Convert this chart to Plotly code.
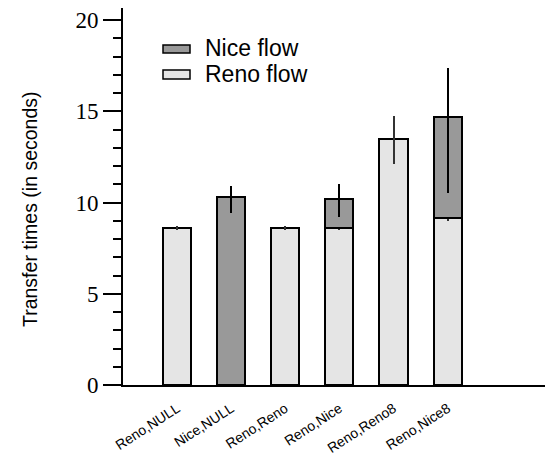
import plotly.graph_objects as go

categories = ["Reno,NULL", "Nice,NULL", "Reno,Reno", "Reno,Nice", "Reno,Reno8", "Reno,Nice8"]
reno_vals = [8.6, None, 8.6, 8.6, 13.5, 9.17]
reno_err_plus = [0.1, None, 0.1, 0.1, 1.26, 0.2]
reno_err_minus = [0.1, None, 0.1, 0.1, 1.41, 0.2]
nice_vals = [None, 10.3, None, 1.6, None, 5.5]
nice_err_plus = [None, 0.59, None, 0.79, None, 2.7]
nice_err_minus = [None, 0.85, None, 1.0, None, 4.13]
y_ticks = [0, 5, 10, 15, 20]

L, T, R, B = 123, 8, 545, 385
W, H = 546, 456

def px(x):
    return (x - L) / (R - L)

def py(y):
    return (B - y) / (B - T)

RENO_COL = "#e5e5e5"
NICE_COL = "#999999"

fig = go.Figure()
fig.add_trace(go.Bar(
    x=categories, y=reno_vals, name="Reno flow", width=0.52,
    marker=dict(color=RENO_COL, line=dict(color="black", width=2)),
    error_y=dict(type="data", symmetric=False, array=reno_err_plus, arrayminus=reno_err_minus,
                 color="#333333", thickness=2, width=0),
))
fig.add_trace(go.Bar(
    x=categories, y=nice_vals, name="Nice flow", width=0.52,
    marker=dict(color=NICE_COL, line=dict(color="black", width=2)),
    error_y=dict(type="data", symmetric=False, array=nice_err_plus, arrayminus=nice_err_minus,
                 color="black", thickness=2, width=0),
))

fig.update_layout(
    barmode="stack",
    width=W, height=H,
    margin=dict(l=L, r=W - R, t=T, b=H - B),
    paper_bgcolor="white", plot_bgcolor="white",
    showlegend=False,
    xaxis=dict(
        type="category", range=[-1, 6.8], showgrid=False,
        showline=True, linecolor="black", linewidth=2,
        ticks="", tickangle=-33, ticklabelstandoff=8,
        tickfont=dict(family="Liberation Sans, Arial", size=14, color="black"),
        fixedrange=True,
    ),
    yaxis=dict(
        range=[0, 20.66], showgrid=False, zeroline=False,
        showline=True, linecolor="black", linewidth=2,
        ticks="outside", ticklen=18, tickwidth=2, tickcolor="black",
        tickvals=y_ticks, ticktext=[str(v) for v in y_ticks],
        tickfont=dict(family="Liberation Serif, Times New Roman", size=23, color="black"),
        minor=dict(ticks="outside", ticklen=8, tickwidth=1.5, tickcolor="black", dtick=1, showgrid=False),
        fixedrange=True,
    ),
)

# y-axis title
fig.add_annotation(
    text="Transfer times (in seconds)", xref="paper", yref="paper",
    x=px(30), y=py(209), xanchor="center", yanchor="middle", textangle=-90,
    showarrow=False, font=dict(family="Liberation Sans, Arial", size=19.5, color="black"),
)

# legend drawn manually
legend_items = [("Nice flow", NICE_COL, 45, 53, 48), ("Reno flow", RENO_COL, 70, 79, 74)]
for label, col, y0, y1, yc in legend_items:
    fig.add_shape(type="rect", xref="paper", yref="paper",
                  x0=px(163), x1=px(190), y0=py(y1), y1=py(y0),
                  fillcolor=col, line=dict(color="black", width=1.5))
    fig.add_annotation(text=label, xref="paper", yref="paper", x=px(203), y=py(yc),
                       xanchor="left", yanchor="middle", showarrow=False,
                       font=dict(family="Liberation Sans, Arial", size=23, color="black"))

fig.write_html("out.html")
